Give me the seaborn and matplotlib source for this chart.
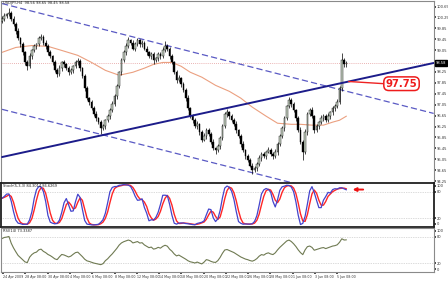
import numpy as np
import pandas as pd
import matplotlib
matplotlib.use("Agg")
import matplotlib.pyplot as plt
import matplotlib.transforms as mtransforms
import seaborn as sns

# ---------------- data ----------------
prior_close = [99.35, 99.50, 99.42, 99.60, 99.71, 99.58, 99.80, 99.92, 99.85,
               100.02, 99.95, 100.10, 100.05, 100.15]
first_open = 100.12
close = [
    100.21, 100.32, 100.36, 100.43, 100.21, 100.00, 99.77, 99.48, 99.26, 98.97,
    98.60, 98.46, 98.82, 99.04, 99.19, 99.26, 99.48, 99.55, 99.33, 99.19,
    98.97, 98.82, 98.60, 98.31, 98.17, 98.39, 98.60, 98.53, 98.39, 98.24,
    98.31, 98.46, 98.60, 98.64, 98.39, 98.09, 97.65, 97.29, 97.14, 96.92,
    96.70, 96.55, 96.41, 96.19, 96.26, 96.48, 96.63, 96.85, 97.07, 97.36,
    97.72, 98.24, 98.68, 98.97, 99.19, 99.41, 99.33, 99.11, 99.26, 99.41,
    99.26, 99.33, 99.11, 98.97, 98.82, 98.90, 98.68, 98.75, 98.90, 98.82,
    99.04, 99.19, 99.11, 98.82, 98.60, 98.24, 97.94, 98.02, 97.80, 97.58,
    97.29, 96.92, 96.63, 96.48, 96.26, 96.34, 96.04, 95.75, 95.90, 96.12,
    95.97, 95.68, 95.46, 95.38, 95.53, 95.82, 96.26, 96.70, 96.77, 96.63,
    96.48, 96.34, 96.12, 95.90, 95.60, 95.38, 95.16, 95.02, 94.80, 94.65,
    94.73, 94.87, 95.09, 95.24, 95.16, 95.31, 95.38, 95.24, 95.16, 95.31,
    95.60, 95.90, 96.19, 96.55, 96.99, 97.21, 97.07, 96.85, 96.55, 96.12,
    95.68, 95.31, 96.04, 96.70, 96.85, 96.63, 96.12, 96.26, 96.41, 96.55,
    96.63, 96.48, 96.63, 96.77, 96.92, 96.99, 97.14, 97.65, 98.68, 98.53,
    98.58]
upper_wick = [
    0.08, 0.10, 0.06, 0.15, 0.05, 0.09, 0.07, 0.11, 0.06, 0.08,
    0.05, 0.10, 0.12, 0.07, 0.09, 0.06, 0.10, 0.11, 0.05, 0.08,
    0.07, 0.09, 0.06, 0.10, 0.08, 0.12, 0.07, 0.09, 0.05, 0.08,
    0.10, 0.06, 0.09, 0.12, 0.07, 0.05, 0.08, 0.10, 0.06, 0.09,
    0.07, 0.11, 0.05, 0.08, 0.10, 0.06, 0.09, 0.07, 0.12, 0.08,
    0.10, 0.06, 0.09, 0.07, 0.11, 0.12, 0.05, 0.10, 0.08, 0.09,
    0.06, 0.11, 0.07, 0.09, 0.05, 0.10, 0.08, 0.06, 0.09, 0.07,
    0.12, 0.20, 0.08, 0.06, 0.10, 0.07, 0.09, 0.11, 0.05, 0.08,
    0.07, 0.10, 0.06, 0.09, 0.08, 0.12, 0.05, 0.07, 0.10, 0.09,
    0.06, 0.08, 0.11, 0.05, 0.09, 0.07, 0.10, 0.08, 0.12, 0.06,
    0.09, 0.07, 0.10, 0.05, 0.08, 0.11, 0.06, 0.09, 0.07, 0.10,
    0.08, 0.06, 0.12, 0.07, 0.09, 0.05, 0.10, 0.08, 0.06, 0.11,
    0.07, 0.09, 0.08, 0.10, 0.06, 0.14, 0.07, 0.09, 0.05, 0.08,
    0.10, 0.06, 0.12, 0.08, 0.07, 0.10, 0.05, 0.09, 0.06, 0.11,
    0.08, 0.07, 0.10, 0.06, 0.09, 0.08, 0.12, 0.10, 0.25, 0.08,
    0.06]
lower_wick = [
    0.06, 0.09, 0.08, 0.05, 0.10, 0.07, 0.11, 0.06, 0.09, 0.08,
    0.10, 0.12, 0.06, 0.08, 0.05, 0.10, 0.07, 0.06, 0.09, 0.11,
    0.08, 0.06, 0.10, 0.07, 0.12, 0.05, 0.09, 0.08, 0.06, 0.10,
    0.07, 0.09, 0.05, 0.08, 0.11, 0.06, 0.10, 0.07, 0.09, 0.08,
    0.06, 0.10, 0.08, 0.20, 0.07, 0.09, 0.05, 0.11, 0.06, 0.08,
    0.10, 0.07, 0.09, 0.06, 0.08, 0.05, 0.10, 0.07, 0.09, 0.06,
    0.11, 0.08, 0.06, 0.10, 0.07, 0.09, 0.12, 0.05, 0.08, 0.10,
    0.06, 0.07, 0.09, 0.11, 0.05, 0.08, 0.10, 0.06, 0.09, 0.07,
    0.12, 0.08, 0.06, 0.10, 0.07, 0.09, 0.11, 0.08, 0.05, 0.10,
    0.07, 0.09, 0.06, 0.15, 0.08, 0.10, 0.05, 0.07, 0.09, 0.11,
    0.06, 0.08, 0.10, 0.07, 0.09, 0.06, 0.12, 0.08, 0.05, 0.15,
    0.07, 0.10, 0.06, 0.09, 0.08, 0.11, 0.05, 0.07, 0.10, 0.06,
    0.09, 0.08, 0.07, 0.11, 0.06, 0.05, 0.10, 0.08, 0.09, 0.07,
    0.06, 0.30, 0.08, 0.10, 0.05, 0.07, 0.12, 0.06, 0.09, 0.08,
    0.10, 0.07, 0.06, 0.09, 0.08, 0.11, 0.07, 0.05, 0.10, 0.09,
    0.08]

ma_bars = [0, 6, 13, 20, 26, 33, 39, 45, 51, 57, 62, 66, 70, 74, 78, 82, 87, 93,
           99, 104, 109, 115, 120, 126, 130, 135, 140, 144, 147, 150]
ma_vals = [98.97, 99.15, 99.22, 99.19, 99.04, 98.86, 98.60, 98.31, 98.13, 98.24,
           98.39, 98.53, 98.60, 98.60, 98.46, 98.24, 98.06, 97.76, 97.54, 97.29,
           96.96, 96.63, 96.37, 96.33, 96.33, 96.30, 96.30, 96.41, 96.48, 96.63]

# trend lines (anchor bar, price)
trend_bars = [0, 188]
support_line = [95.13, 98.58]
channel_upper = [100.76, 96.73]
channel_lower = [96.88, 92.87]
level_label = 97.75

price_ticks = [100.65, 100.25, 99.85, 99.45, 99.05, 98.65, 98.25, 97.85, 97.45,
               97.05, 96.65, 96.25, 95.85, 95.45, 95.05, 94.65, 94.25]
date_ticks = [0.5, 10.2, 19.9, 29.6, 39.3, 49, 58.7, 68.4, 78.1, 87.8, 97.5, 107.2,
              116.9, 126.6, 136.3, 146]
date_labels = ["24 Apr 2009", "28 Apr 08:00", "30 Apr 08:00", "4 May 08:00",
               "6 May 08:00", "8 May 08:00", "12 May 08:00", "14 May 08:00",
               "18 May 08:00", "20 May 08:00", "22 May 08:00", "26 May 08:00",
               "28 May 08:00", "1 Jun 08:00", "3 Jun 08:00", "5 Jun 08:00"]

# ---------------- derived ----------------
n = len(close)
bars = np.arange(n)
c = np.array(close)
o = np.array([first_open] + close[:-1])
hi = np.maximum(o, c) + np.array(upper_wick)
lo = np.minimum(o, c) - np.array(lower_wick)
df = pd.DataFrame({"bar": bars, "open": o, "close": c, "high": hi, "low": lo})

ll = df["low"].rolling(5, min_periods=1).min()
hh = df["high"].rolling(5, min_periods=1).max()
num = (df["close"] - ll).rolling(3, min_periods=1).sum()
den = (hh - ll).rolling(3, min_periods=1).sum()
df["k"] = 100 * num / den
df["d"] = df["k"].rolling(3, min_periods=1).mean()

full = pd.Series(prior_close + close)
delta = full.diff().fillna(0)
gain = delta.clip(lower=0).ewm(alpha=1 / 14, adjust=True).mean()
loss = (-delta.clip(upper=0)).ewm(alpha=1 / 14, adjust=True).mean()
rsi_full = 100 - 100 / (1 + gain / loss.replace(0, np.nan))
df["rsi"] = rsi_full.iloc[len(prior_close):].fillna(50).to_numpy()

# ---------------- figure ----------------
sns.set_theme(style="white")
plt.rcParams["font.family"] = ["Liberation Sans Narrow", "DejaVu Sans"]
fig = plt.figure(figsize=(4.48, 2.81), dpi=100)
fig.patch.set_facecolor("white")

L, W = 0.002, 0.967
ax = fig.add_axes([L, 0.349, W, 0.649])
ax_s = fig.add_axes([L, 0.192, W, 0.157])
ax_r = fig.add_axes([L, 0.032, W, 0.156])

XMAX = 188.2
fs = 2.6
for a in (ax, ax_s, ax_r):
    a.set_xlim(-0.5, XMAX)
    a.set_facecolor("white")
    a.yaxis.tick_right()
    a.tick_params(axis="y", labelsize=fs, length=1.2, pad=0.6, colors="#333333",
                  direction="out", right=True, left=False)

# --- main price panel
ax.set_ylim(94.18, 100.87)
up = c >= o
ax.vlines(bars, lo, hi, color="black", linewidth=0.5, zorder=3)
ax.bar(bars, np.maximum(np.abs(c - o), 0.01), bottom=np.minimum(o, c), width=0.75,
       color=np.where(up, "#c8d4c4", "black"), edgecolor="black", linewidth=0.3, zorder=4)

sns.lineplot(x=ma_bars, y=ma_vals, ax=ax, color="#eba080", linewidth=0.8, zorder=2)
ax.plot(trend_bars, support_line, color="#1c1c8a", linewidth=1.4, zorder=5)
ax.plot(trend_bars, channel_upper, color="#5a5ac4", linewidth=0.9, dashes=(5, 2.5), zorder=2)
ax.plot(trend_bars, channel_lower, color="#5a5ac4", linewidth=0.9, dashes=(5, 2.5), zorder=2)
ax.axhline(c[-1], color="#e39a9a", linewidth=0.6, linestyle=(0, (1, 1.5)), zorder=1)

# label 97.75
slope = (support_line[1] - support_line[0]) / (trend_bars[1] - trend_bars[0])
x0 = 151
ax.plot([x0, 166.5], [support_line[0] + slope * x0, level_label + 0.07],
        color="#ee2222", linewidth=1.0, zorder=6)
ax.text(174, level_label + 0.07, f"{level_label:.2f}", color="#ee1c1c", fontsize=7.3,
        fontweight="bold", ha="center", va="center", zorder=7, family="DejaVu Sans",
        bbox=dict(boxstyle="round,pad=0.18,rounding_size=0.5", fc="white",
                  ec="#ee1c1c", lw=1.1))

shown = [t for t in price_ticks if abs(t - c[-1]) > 0.15]
ax.set_yticks(shown)
ax.set_yticklabels([f"{t:.2f}" for t in shown])
trans = mtransforms.blended_transform_factory(ax.transAxes, ax.transData)
ax.text(1.004, c[-1], f"{c[-1]:.2f}", transform=trans, fontsize=fs, color="white",
        ha="left", va="center", bbox=dict(fc="black", ec="black", pad=0.5))
ax.text(0.004, 0.995, "USDJPY,H4  98.56 98.65 98.45 98.58", transform=ax.transAxes,
        fontsize=fs, color="#222222", ha="left", va="top")
ax.set_xticks([])

# --- stochastic panel
ax_s.set_ylim(0, 100)
for lvl in (20, 80):
    ax_s.axhline(lvl, color="#b8b8b8", linewidth=0.5, linestyle=(0, (1, 1.5)))
sns.lineplot(data=df, x="bar", y="d", ax=ax_s, color="#ff2626", linewidth=1.0)
sns.lineplot(data=df, x="bar", y="k", ax=ax_s, color="#4444cc", linewidth=0.9)
ax_s.annotate("", xy=(151.5, 85), xytext=(158.5, 85),
              arrowprops=dict(arrowstyle="-|>", color="#ee1111", lw=1.4, mutation_scale=5))
ax_s.set_yticks([8, 20, 80, 94])
ax_s.set_yticklabels(["0", "20", "80", "100"])
ax_s.text(0.004, 0.97, f"Stoch(5,3,3) {df['k'].iloc[-1]:.4f} {df['d'].iloc[-1]:.4f}",
          transform=ax_s.transAxes, fontsize=fs, color="#222222", ha="left", va="top")
ax_s.set_xticks([])
ax_s.set_xlabel("")
ax_s.set_ylabel("")

# --- RSI panel
ax_r.set_ylim(0, 100)
for lvl in (20, 80):
    ax_r.axhline(lvl, color="#b8b8b8", linewidth=0.5, linestyle=(0, (1, 1.5)))
sns.lineplot(data=df, x="bar", y="rsi", ax=ax_r, color="#6f7a52", linewidth=0.8)
ax_r.set_yticks([6, 20, 80, 94])
ax_r.set_yticklabels(["0", "20", "80", "100"])
ax_r.text(0.004, 0.97, f"RSI(14) {df['rsi'].iloc[-1]:.4f}", transform=ax_r.transAxes,
          fontsize=fs, color="#222222", ha="left", va="top")
ax_r.set_xticks(date_ticks)
ax_r.set_xticklabels(date_labels, ha="left")
ax_r.tick_params(axis="x", labelsize=2.35, length=1.5, pad=0.3, colors="#333333",
                 direction="out", bottom=True)
ax_r.set_xlabel("")
ax_r.set_ylabel("")
ax.set_xlabel("")
ax.set_ylabel("")

for a, col, lw in ((ax, "#8a8a8a", 0.8), (ax_s, "#202020", 1.3), (ax_r, "#8a8a8a", 0.8)):
    for sp in a.spines.values():
        sp.set_visible(True)
        sp.set_color(col)
        sp.set_linewidth(lw)

fig.savefig("out.png", dpi=100, facecolor="white")
